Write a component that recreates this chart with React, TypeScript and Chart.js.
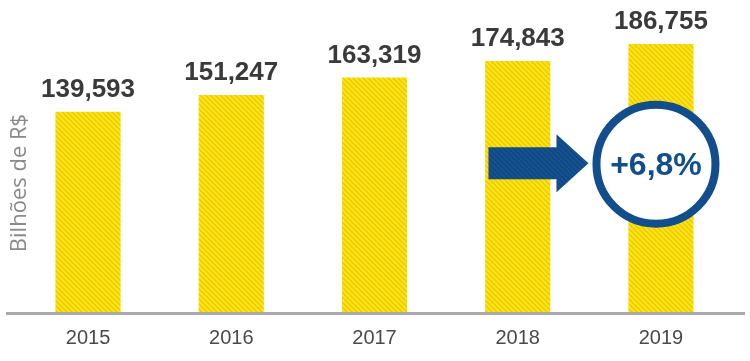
import React, { useEffect, useRef } from "react";
import { Chart, registerables } from "chart.js";

Chart.register(...registerables);

const years = ["2015", "2016", "2017", "2018", "2019"];
const values = [139.593, 151.247, 163.319, 174.843, 186.755];
const valueLabels = ["139,593", "151,247", "163,319", "174,843", "186,755"];
const growthLabel = "+6,8%";
const yTitle = "Bilhões de R$";

function makePattern(base: string, stripe: string, size: number, lw: number) {
  const c = document.createElement("canvas");
  c.width = size;
  c.height = size;
  const g = c.getContext("2d")!;
  g.fillStyle = base;
  g.fillRect(0, 0, size, size);
  g.strokeStyle = stripe;
  g.lineWidth = lw;
  for (let k = -1; k <= 1; k++) {
    g.beginPath();
    g.moveTo(k * size - 1, -1);
    g.lineTo(k * size + size + 1, size + 1);
    g.stroke();
  }
  const ctx = document.createElement("canvas").getContext("2d")!;
  return ctx.createPattern(c, "repeat")!;
}

export default function App() {
  const ref = useRef<HTMLCanvasElement | null>(null);

  useEffect(() => {
    if (!ref.current) return;
    const barPattern = makePattern("#FFE61A", "#EDCC00", 5, 1.6);
    const bluePattern = makePattern("#16528F", "#0F4682", 5, 1.4);

    const overlay = {
      id: "overlay",
      afterDatasetsDraw(chart: any) {
        const ctx = chart.ctx as CanvasRenderingContext2D;
        const yScale = chart.scales.y;
        const meta = chart.getDatasetMeta(0);
        const zeroY = yScale.getPixelForValue(0);
        ctx.save();
        // axis line
        ctx.strokeStyle = "#A9A9A9";
        ctx.lineWidth = 3;
        ctx.beginPath();
        ctx.moveTo(6, zeroY + 1.5);
        ctx.lineTo(745, zeroY + 1.5);
        ctx.stroke();

        // value labels
        ctx.fillStyle = "#3A3A3A";
        ctx.font = "bold 26px 'Liberation Sans', Arial, sans-serif";
        ctx.textAlign = "center";
        ctx.textBaseline = "alphabetic";
        meta.data.forEach((bar: any, i: number) => {
          ctx.fillText(valueLabels[i], bar.x, bar.y - 15);
        });

        // y title
        ctx.save();
        ctx.translate(26, 183);
        ctx.rotate(-Math.PI / 2);
        ctx.fillStyle = "#8A8A8A";
        ctx.font = "22px 'Open Sans', sans-serif";
        ctx.textAlign = "center";
        ctx.textBaseline = "alphabetic";
        ctx.fillText(yTitle, 0, 0);
        ctx.restore();

        // circle + arrow
        const last = meta.data[meta.data.length - 1];
        const cx = last.x - 5;
        const cy = yScale.getPixelForValue(103);
        const r = 59.5;
        const tip = cx - r - 4 - 4;
        const headStart = tip - 32;
        const start = tip - 100;
        const ay = cy - 1;
        ctx.fillStyle = bluePattern;
        ctx.beginPath();
        ctx.moveTo(start, ay - 16);
        ctx.lineTo(headStart, ay - 16);
        ctx.lineTo(headStart, ay - 29);
        ctx.lineTo(tip, ay);
        ctx.lineTo(headStart, ay + 29);
        ctx.lineTo(headStart, ay + 16);
        ctx.lineTo(start, ay + 16);
        ctx.closePath();
        ctx.fill();

        ctx.beginPath();
        ctx.arc(cx, cy, r, 0, Math.PI * 2);
        ctx.fillStyle = "#FFFFFF";
        ctx.fill();
        ctx.lineWidth = 8;
        ctx.strokeStyle = "#124E8C";
        ctx.stroke();

        ctx.fillStyle = "#124E8C";
        ctx.font = "bold 32px 'Liberation Sans', Arial, sans-serif";
        ctx.textAlign = "center";
        ctx.textBaseline = "middle";
        ctx.fillText(growthLabel, cx, cy + 2);
        ctx.restore();
      },
    };

    const chart = new Chart(ref.current, {
      type: "bar",
      data: {
        labels: years,
        datasets: [
          {
            data: values,
            backgroundColor: barPattern as any,
            borderWidth: 0,
            barPercentage: 0.455,
            categoryPercentage: 1,
          },
        ],
      },
      options: {
        responsive: false,
        animation: false,
        layout: { padding: { left: 16.4, right: 17.4, top: 0, bottom: 0 } },
        plugins: { legend: { display: false }, tooltip: { enabled: false } },
        scales: {
          x: {
            grid: { display: false, drawTicks: false },
            border: { display: false },
            afterFit(scale: any) {
              scale.height = 49;
            },
            ticks: {
              color: "#4A4A4A",
              padding: 14,
              font: { family: "'Liberation Sans', Arial, sans-serif", size: 20 },
            },
          },
          y: { display: false, min: 0, max: 217.4 },
        },
      },
      plugins: [overlay],
    });
    return () => chart.destroy();
  }, []);

  return (
    <div style={{ position: "absolute", left: 0, top: 0, width: 750, height: 361, background: "#fff" }}>
      <canvas ref={ref} width={750} height={361} style={{ display: "block" }} />
    </div>
  );
}
